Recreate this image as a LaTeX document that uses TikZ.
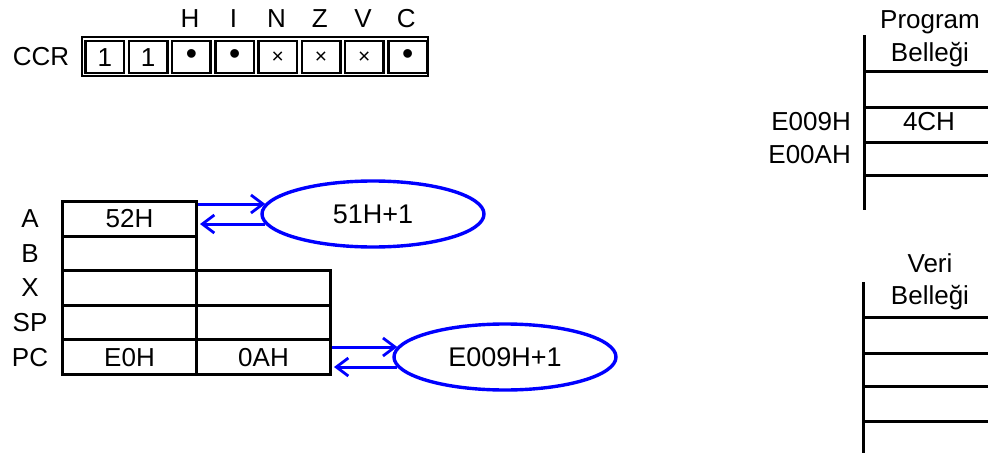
\documentclass[tikz,border=0pt]{standalone}
\usepackage{fontspec}
\setmainfont{Liberation Sans}
\usetikzlibrary{shapes.geometric,arrows.meta,positioning}
\tikzset{
  lbl/.style={inner sep=0pt,font=\fontsize{26}{28}\selectfont},
  ccrcell/.style={draw,line width=2.4pt,minimum width=38.5pt,minimum height=32pt,inner sep=0pt,anchor=north west,font=\fontsize{26}{28}\selectfont},
  reg/.style={draw,line width=3pt,minimum width=134pt,minimum height=34.6pt,inner sep=0pt,anchor=north west,font=\fontsize{26}{28}\selectfont},
  oval/.style={ellipse,draw=blue,line width=3.4pt,minimum width=222pt,minimum height=66pt,inner sep=0pt,font=\fontsize{27}{29}\selectfont},
  flow/.style={blue,line width=3pt,-{Straight Barb[length=12pt,width=18pt,line width=2.8pt]}},
  mem/.style={line width=3pt},
}
\begin{document}
\begin{tikzpicture}[x=1pt,y=-1pt]
\useasboundingbox (0,0) rectangle (988,455);

% condition code register
\node[lbl] (ccr) at (41,57) {CCR};
\draw[line width=2.4pt] (82,37) rectangle (428,76);
\foreach \v [count=\i] in {1,1,{\fontsize{32}{32}\selectfont\textbullet},{\fontsize{32}{32}\selectfont\textbullet},{\fontsize{21}{21}\selectfont×},{\fontsize{21}{21}\selectfont×},{\fontsize{21}{21}\selectfont×},{\fontsize{32}{32}\selectfont\textbullet}}{
  \node[ccrcell] (c\i) at ({84.4+43.25*(\i-1)},40) {\v};
}
\foreach \f [count=\i from 3] in {H,I,N,Z,V,C}{
  \node[lbl] (f\i) at ({82+43.25*(\i-0.5)},19) {\f};
}

% register set
\node[reg] (ra) at (61,200) {52H};
\node[reg] (rb) at (61,234.6) {};
\node[reg] (rxh) at (61,269.2) {};
\node[reg] (rxl) at (195,269.2) {};
\node[reg] (rsh) at (61,303.8) {};
\node[reg] (rsl) at (195,303.8) {};
\node[reg] (rph) at (61,338.4) {E0H};
\node[reg] (rpl) at (195,338.4) {0AH};
\foreach \n/\t in {ra/A,rb/B,rxh/X,rsh/SP,rph/PC}{
  \node[lbl,anchor=center] at ([xshift=-31pt]\n.west) {\t};
}

% increment operations
\node[oval] (inca) at (373,214) {51H+1};
\node[oval] (incpc) at (505,357) {E009H+1};
\coordinate (aU) at ([xshift=5pt,yshift=10pt]inca.west);
\coordinate (aD) at ([xshift=5pt,yshift=-10pt]inca.west);
\coordinate (pU) at ([xshift=5pt,yshift=10pt]incpc.west);
\coordinate (pD) at ([xshift=5pt,yshift=-10pt]incpc.west);
\draw[flow] (aU -| ra.east) -- (aU);
\draw[flow] (aD) -- ([xshift=2pt]aD -| ra.east);
\draw[flow] (pU -| rpl.east) -- (pU);
\draw[flow] (pD) -- ([xshift=2pt]pD -| rpl.east);

% program memory
\node[lbl] (pmt) at (930,22) {Program};
\node[lbl] (pmb) at (930,55) {Belleği};
\coordinate (pmtop) at (864,35);
\coordinate (pmbot) at (864,210);
\draw[mem] (pmtop) -- (pmbot);
\foreach \y in {71,107,142,175}{
  \draw[mem] (864,\y) -- (990,\y);
}
\node[lbl] (m1) at (929,122) {4CH};
\node[lbl,anchor=east] (a1) at (851,122) {E009H};
\node[lbl,anchor=east] (a2) at (851,155) {E00AH};

% data memory
\node[lbl] (dmt) at (930,263) {Veri};
\node[lbl] (dmb) at (930,298) {Belleği};
\coordinate (dmtop) at (863,282);
\coordinate (dmbot) at (863,453);
\draw[mem] (dmtop) -- (dmbot);
\foreach \y in {317,353,386,421}{
  \draw[mem] (863,\y) -- (990,\y);
}
\end{tikzpicture}
\end{document}
